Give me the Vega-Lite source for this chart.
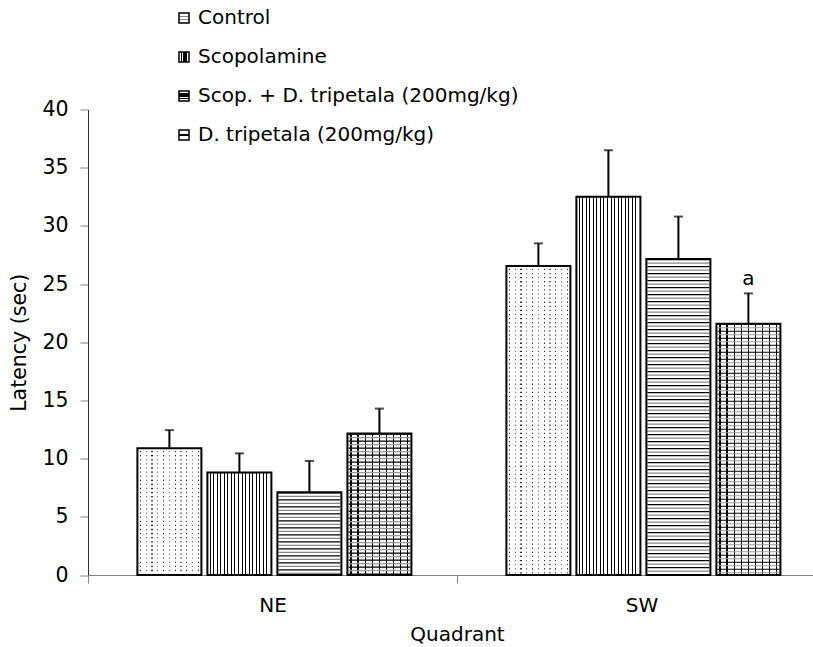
{
  "$schema": "https://vega.github.io/schema/vega-lite/v6.json",
  "width": 725,
  "height": 465.5,
  "autosize": {"type": "none"},
  "padding": {"left": 88, "top": 109.5, "right": 0, "bottom": 72},
  "background": "white",
  "config": {
    "font": "DejaVu Sans",
    "view": {"stroke": null},
    "axis": {"grid": false, "labelColor": "black", "titleColor": "black", "titleFontWeight": "normal", "labelFont": "DejaVu Sans", "titleFont": "DejaVu Sans"}
  },
  "data": {
    "values": [
      {"quadrant": "NE", "group": "Control", "latency": 10.9, "upper": 12.45, "sig": ""},
      {"quadrant": "NE", "group": "Scopolamine", "latency": 8.8, "upper": 10.45, "sig": ""},
      {"quadrant": "NE", "group": "Scop. + D. tripetala (200mg/kg)", "latency": 7.1, "upper": 9.8, "sig": ""},
      {"quadrant": "NE", "group": "D. tripetala (200mg/kg)", "latency": 12.15, "upper": 14.3, "sig": ""},
      {"quadrant": "SW", "group": "Control", "latency": 26.55, "upper": 28.5, "sig": ""},
      {"quadrant": "SW", "group": "Scopolamine", "latency": 32.5, "upper": 36.5, "sig": ""},
      {"quadrant": "SW", "group": "Scop. + D. tripetala (200mg/kg)", "latency": 27.15, "upper": 30.8, "sig": ""},
      {"quadrant": "SW", "group": "D. tripetala (200mg/kg)", "latency": 21.6, "upper": 24.2, "sig": "a"}
    ]
  },
  "encoding": {
    "x": {
      "field": "quadrant", "type": "nominal",
      "scale": {"domain": ["NE", "SW"], "range": [0, 738], "paddingInner": 0, "paddingOuter": 0},
      "axis": {"title": "Quadrant", "labelAngle": 0, "tickBand": "extent", "tickSize": 8, "tickColor": "#808080", "domainColor": "#808080", "labelFontSize": 20, "labelPadding": 12, "titleFontSize": 20, "titlePadding": 9}
    },
    "xOffset": {
      "field": "group", "type": "nominal",
      "scale": {"domain": ["Control", "Scopolamine", "Scop. + D. tripetala (200mg/kg)", "D. tripetala (200mg/kg)"], "paddingInner": 0.0857, "paddingOuter": 0.6786, "align": 0.52}
    }
  },
  "layer": [
    {
      "mark": {"type": "bar"},
      "encoding": {
        "y": {"field": "latency", "type": "quantitative", "scale": {"domain": [0, 40], "nice": false},
          "axis": {"title": "Latency (sec)", "values": [0, 5, 10, 15, 20, 25, 30, 35, 40], "tickSize": 8, "tickColor": "#808080", "domainColor": "#303030", "labelFontSize": 20.5, "labelPadding": 12, "titleFontSize": 20.5, "titlePadding": 12}},
        "fill": {
          "field": "group", "type": "nominal",
          "scale": {
            "domain": ["Control", "Scopolamine", "Scop. + D. tripetala (200mg/kg)", "D. tripetala (200mg/kg)"],
            "range": [
              {"expr": "{gradient:'linear',x1:0,y1:0,x2:0,y2:1,stops:[{offset:0,color:'#fff'},{offset:0.3,color:'#fff'},{offset:0.3,color:'#888'},{offset:0.42,color:'#888'},{offset:0.42,color:'#fff'},{offset:0.58,color:'#fff'},{offset:0.58,color:'#888'},{offset:0.7,color:'#888'},{offset:0.7,color:'#fff'},{offset:1,color:'#fff'}]}"},
              {"expr": "{gradient:'linear',x1:0,y1:0,x2:1,y2:0,stops:[{offset:0,color:'#fff'},{offset:0.2,color:'#fff'},{offset:0.2,color:'#000'},{offset:0.35,color:'#000'},{offset:0.35,color:'#fff'},{offset:0.43,color:'#fff'},{offset:0.43,color:'#000'},{offset:0.57,color:'#000'},{offset:0.57,color:'#fff'},{offset:0.65,color:'#fff'},{offset:0.65,color:'#000'},{offset:0.8,color:'#000'},{offset:0.8,color:'#fff'},{offset:1,color:'#fff'}]}"},
              {"expr": "{gradient:'linear',x1:0,y1:0,x2:0,y2:1,stops:[{offset:0,color:'#fff'},{offset:0.2,color:'#fff'},{offset:0.2,color:'#000'},{offset:0.35,color:'#000'},{offset:0.35,color:'#fff'},{offset:0.43,color:'#fff'},{offset:0.43,color:'#000'},{offset:0.57,color:'#000'},{offset:0.57,color:'#fff'},{offset:0.65,color:'#fff'},{offset:0.65,color:'#000'},{offset:0.8,color:'#000'},{offset:0.8,color:'#fff'},{offset:1,color:'#fff'}]}"},
              {"expr": "{gradient:'linear',x1:0,y1:0,x2:0,y2:1,stops:[{offset:0,color:'#fff'},{offset:0.42,color:'#fff'},{offset:0.42,color:'#000'},{offset:0.58,color:'#000'},{offset:0.58,color:'#fff'},{offset:1,color:'#fff'}]}"}
            ]
          },
          "legend": {
            "title": null, "orient": "none", "legendX": 86, "legendY": -101.5,
            "symbolType": "square", "symbolSize": 100, "symbolStrokeColor": "black", "symbolStrokeWidth": 1.5,
            "labelFont": "DejaVu Sans", "labelFontSize": 20, "labelColor": "black", "labelOffset": 4,
            "rowPadding": 19, "labelLimit": 500
          }
        }
      }
    },
    {
      "mark": {"type": "bar", "fill": "white"},
      "encoding": {"y": {"field": "latency", "type": "quantitative"}}
    },
    {
      "transform": [{"filter": "datum.group === 'Control'"}],
      "mark": {"type": "bar", "fill": {"gradient": "linear", "x1": 0, "y1": 0, "x2": 1, "y2": 0, "stops": [
        {"offset": 0, "color": "#fff"},
        {"offset": 0.0365, "color": "#fff"}, {"offset": 0.0365, "color": "#333"}, {"offset": 0.0545, "color": "#333"}, {"offset": 0.0545, "color": "#fff"},
        {"offset": 0.1274, "color": "#fff"}, {"offset": 0.1274, "color": "#777"}, {"offset": 0.1454, "color": "#777"}, {"offset": 0.1454, "color": "#fff"},
        {"offset": 0.2183, "color": "#fff"}, {"offset": 0.2183, "color": "#333"}, {"offset": 0.2363, "color": "#333"}, {"offset": 0.2363, "color": "#fff"},
        {"offset": 0.3092, "color": "#fff"}, {"offset": 0.3092, "color": "#777"}, {"offset": 0.3272, "color": "#777"}, {"offset": 0.3272, "color": "#fff"},
        {"offset": 0.4001, "color": "#fff"}, {"offset": 0.4001, "color": "#333"}, {"offset": 0.4181, "color": "#333"}, {"offset": 0.4181, "color": "#fff"},
        {"offset": 0.491, "color": "#fff"}, {"offset": 0.491, "color": "#777"}, {"offset": 0.509, "color": "#777"}, {"offset": 0.509, "color": "#fff"},
        {"offset": 0.5819, "color": "#fff"}, {"offset": 0.5819, "color": "#333"}, {"offset": 0.5999, "color": "#333"}, {"offset": 0.5999, "color": "#fff"},
        {"offset": 0.6728, "color": "#fff"}, {"offset": 0.6728, "color": "#777"}, {"offset": 0.6908, "color": "#777"}, {"offset": 0.6908, "color": "#fff"},
        {"offset": 0.7637, "color": "#fff"}, {"offset": 0.7637, "color": "#333"}, {"offset": 0.7817, "color": "#333"}, {"offset": 0.7817, "color": "#fff"},
        {"offset": 0.8546, "color": "#fff"}, {"offset": 0.8546, "color": "#777"}, {"offset": 0.8726, "color": "#777"}, {"offset": 0.8726, "color": "#fff"},
        {"offset": 0.9455, "color": "#fff"}, {"offset": 0.9455, "color": "#333"}, {"offset": 0.9635, "color": "#333"}, {"offset": 0.9635, "color": "#fff"},
        {"offset": 1, "color": "#fff"}
      ]}},
      "encoding": {"y": {"field": "latency", "type": "quantitative"}}
    },
    {
      "transform": [{"filter": "datum.group === 'Control'"}],
      "mark": {"type": "rule", "color": "white", "strokeWidth": 62, "strokeDash": [2.8, 1.3]},
      "encoding": {"y": {"field": "latency", "type": "quantitative"}, "y2": {"datum": 0}}
    },
    {
      "transform": [{"filter": "datum.group === 'Scopolamine'"}],
      "mark": {"type": "bar", "fill": {"gradient": "linear", "x1": 0, "y1": 0, "x2": 1, "y2": 0, "stops": [
        {"offset": 0, "color": "#fff"},
        {"offset": 0.0333, "color": "#fff"}, {"offset": 0.0333, "color": "#000"}, {"offset": 0.05, "color": "#000"}, {"offset": 0.05, "color": "#fff"},
        {"offset": 0.0889, "color": "#fff"}, {"offset": 0.0889, "color": "#000"}, {"offset": 0.1056, "color": "#000"}, {"offset": 0.1056, "color": "#fff"},
        {"offset": 0.1444, "color": "#fff"}, {"offset": 0.1444, "color": "#000"}, {"offset": 0.1611, "color": "#000"}, {"offset": 0.1611, "color": "#fff"},
        {"offset": 0.2, "color": "#fff"}, {"offset": 0.2, "color": "#000"}, {"offset": 0.2167, "color": "#000"}, {"offset": 0.2167, "color": "#fff"},
        {"offset": 0.2556, "color": "#fff"}, {"offset": 0.2556, "color": "#000"}, {"offset": 0.2722, "color": "#000"}, {"offset": 0.2722, "color": "#fff"},
        {"offset": 0.3111, "color": "#fff"}, {"offset": 0.3111, "color": "#000"}, {"offset": 0.3278, "color": "#000"}, {"offset": 0.3278, "color": "#fff"},
        {"offset": 0.3667, "color": "#fff"}, {"offset": 0.3667, "color": "#000"}, {"offset": 0.3833, "color": "#000"}, {"offset": 0.3833, "color": "#fff"},
        {"offset": 0.4222, "color": "#fff"}, {"offset": 0.4222, "color": "#000"}, {"offset": 0.4389, "color": "#000"}, {"offset": 0.4389, "color": "#fff"},
        {"offset": 0.4778, "color": "#fff"}, {"offset": 0.4778, "color": "#000"}, {"offset": 0.4944, "color": "#000"}, {"offset": 0.4944, "color": "#fff"},
        {"offset": 0.5333, "color": "#fff"}, {"offset": 0.5333, "color": "#000"}, {"offset": 0.55, "color": "#000"}, {"offset": 0.55, "color": "#fff"},
        {"offset": 0.5889, "color": "#fff"}, {"offset": 0.5889, "color": "#000"}, {"offset": 0.6056, "color": "#000"}, {"offset": 0.6056, "color": "#fff"},
        {"offset": 0.6444, "color": "#fff"}, {"offset": 0.6444, "color": "#000"}, {"offset": 0.6611, "color": "#000"}, {"offset": 0.6611, "color": "#fff"},
        {"offset": 0.7, "color": "#fff"}, {"offset": 0.7, "color": "#000"}, {"offset": 0.7167, "color": "#000"}, {"offset": 0.7167, "color": "#fff"},
        {"offset": 0.7556, "color": "#fff"}, {"offset": 0.7556, "color": "#000"}, {"offset": 0.7722, "color": "#000"}, {"offset": 0.7722, "color": "#fff"},
        {"offset": 0.8111, "color": "#fff"}, {"offset": 0.8111, "color": "#000"}, {"offset": 0.8278, "color": "#000"}, {"offset": 0.8278, "color": "#fff"},
        {"offset": 0.8667, "color": "#fff"}, {"offset": 0.8667, "color": "#000"}, {"offset": 0.8833, "color": "#000"}, {"offset": 0.8833, "color": "#fff"},
        {"offset": 0.9222, "color": "#fff"}, {"offset": 0.9222, "color": "#000"}, {"offset": 0.9389, "color": "#000"}, {"offset": 0.9389, "color": "#fff"},
        {"offset": 1, "color": "#fff"}
      ]}},
      "encoding": {"y": {"field": "latency", "type": "quantitative"}}
    },
    {
      "transform": [{"filter": "datum.group === 'Scop. + D. tripetala (200mg/kg)'"}],
      "mark": {"type": "rule", "color": "black", "strokeWidth": 62, "strokeDash": [1.2, 5.8]},
      "encoding": {"y": {"field": "latency", "type": "quantitative"}, "y2": {"datum": 0}}
    },
    {
      "transform": [{"filter": "datum.group === 'Scop. + D. tripetala (200mg/kg)'"}],
      "mark": {"type": "rule", "color": "#888888", "strokeWidth": 62, "strokeDash": [1.2, 5.8], "strokeDashOffset": 3.5},
      "encoding": {"y": {"field": "latency", "type": "quantitative"}, "y2": {"datum": 0}}
    },
    {
      "transform": [{"filter": "datum.group === 'D. tripetala (200mg/kg)'"}],
      "mark": {"type": "bar", "fill": {"gradient": "linear", "x1": 0, "y1": 0, "x2": 1, "y2": 0, "stops": [
        {"offset": 0, "color": "#fff"},
        {"offset": 0.0456, "color": "#fff"}, {"offset": 0.0456, "color": "#000"}, {"offset": 0.0656, "color": "#000"}, {"offset": 0.0656, "color": "#fff"},
        {"offset": 0.1567, "color": "#fff"}, {"offset": 0.1567, "color": "#000"}, {"offset": 0.1767, "color": "#000"}, {"offset": 0.1767, "color": "#fff"},
        {"offset": 0.2678, "color": "#fff"}, {"offset": 0.2678, "color": "#000"}, {"offset": 0.2878, "color": "#000"}, {"offset": 0.2878, "color": "#fff"},
        {"offset": 0.3789, "color": "#fff"}, {"offset": 0.3789, "color": "#000"}, {"offset": 0.3989, "color": "#000"}, {"offset": 0.3989, "color": "#fff"},
        {"offset": 0.49, "color": "#fff"}, {"offset": 0.49, "color": "#000"}, {"offset": 0.51, "color": "#000"}, {"offset": 0.51, "color": "#fff"},
        {"offset": 0.6011, "color": "#fff"}, {"offset": 0.6011, "color": "#000"}, {"offset": 0.6211, "color": "#000"}, {"offset": 0.6211, "color": "#fff"},
        {"offset": 0.7122, "color": "#fff"}, {"offset": 0.7122, "color": "#000"}, {"offset": 0.7322, "color": "#000"}, {"offset": 0.7322, "color": "#fff"},
        {"offset": 0.8233, "color": "#fff"}, {"offset": 0.8233, "color": "#000"}, {"offset": 0.8433, "color": "#000"}, {"offset": 0.8433, "color": "#fff"},
        {"offset": 0.9344, "color": "#fff"}, {"offset": 0.9344, "color": "#000"}, {"offset": 0.9544, "color": "#000"}, {"offset": 0.9544, "color": "#fff"},
        {"offset": 1, "color": "#fff"}
      ]}},
      "encoding": {"y": {"field": "latency", "type": "quantitative"}}
    },
    {
      "transform": [{"filter": "datum.group === 'D. tripetala (200mg/kg)'"}],
      "mark": {"type": "rule", "color": "black", "strokeWidth": 62, "strokeDash": [1.2, 5.8]},
      "encoding": {"y": {"field": "latency", "type": "quantitative"}, "y2": {"datum": 0}}
    },
    {
      "transform": [{"filter": "datum.group === 'D. tripetala (200mg/kg)'"}],
      "mark": {"type": "rule", "color": "#999999", "strokeWidth": 62, "strokeDash": [1.2, 5.8], "strokeDashOffset": 3.5},
      "encoding": {"y": {"field": "latency", "type": "quantitative"}, "y2": {"datum": 0}}
    },
    {
      "mark": {"type": "bar", "fillOpacity": 0, "stroke": "black", "strokeWidth": 2},
      "encoding": {"y": {"field": "latency", "type": "quantitative"}}
    },
    {
      "mark": {"type": "rule", "color": "black", "strokeWidth": 2},
      "encoding": {"y": {"field": "latency", "type": "quantitative"}, "y2": {"field": "upper"}}
    },
    {
      "mark": {"type": "tick", "color": "black", "orient": "horizontal", "size": 9, "thickness": 2},
      "encoding": {"y": {"field": "upper", "type": "quantitative"}}
    },
    {
      "mark": {"type": "text", "font": "DejaVu Sans", "fontSize": 20, "color": "black", "baseline": "alphabetic", "dy": -8},
      "encoding": {"y": {"field": "upper", "type": "quantitative"}, "text": {"field": "sig"}}
    }
  ]
}
